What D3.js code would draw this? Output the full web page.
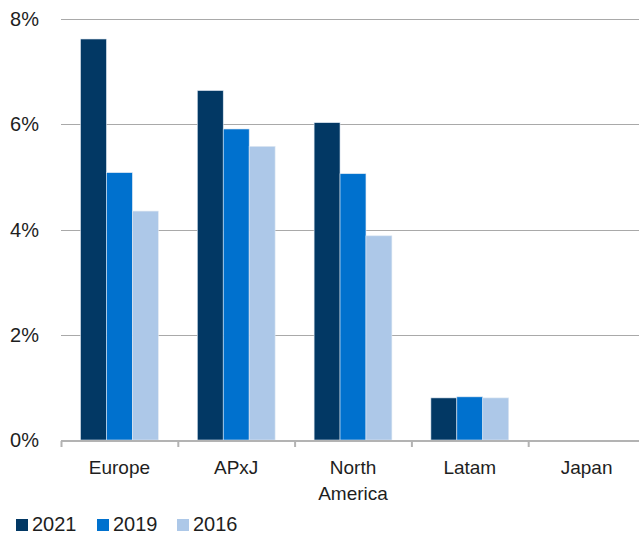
<!DOCTYPE html>
<html>
<head>
<meta charset="utf-8">
<script src="https://cdn.jsdelivr.net/npm/d3@7"></script>
<style>
  body { margin: 0; background: #fff; }
  svg text { font-family: "Liberation Sans", Arial, sans-serif; fill: #1e1e1e; }
</style>
</head>
<body>
<div id="chart"></div>
<script>
var regions = ["Europe", "APxJ", "North America", "Latam", "Japan"];
var years = ["2021", "2019", "2016"];
var values2021 = [7.62, 6.64, 6.03, 0.80, 0];
var values2019 = [5.08, 5.91, 5.06, 0.82, 0];
var values2016 = [4.35, 5.58, 3.88, 0.80, 0];
var yTicks = [0, 2, 4, 6, 8];
var colors = ["#023864", "#0071ce", "#adc8e8"];

var width = 639, height = 538;
var series = [values2021, values2019, values2016];

var svg = d3.select("#chart").append("svg").attr("width", width).attr("height", height);

var x = d3.scaleBand().domain(regions).range([61, 645]).paddingInner(0).paddingOuter(0);
var xInner = d3.scaleBand().domain(years).range([19.5, x.bandwidth() - 19.5]);
var y = d3.scaleLinear().domain([0, 8]).range([440, 19]);

// gridlines
svg.append("g").selectAll("line")
  .data(yTicks.filter(function(d){ return d > 0; }))
  .enter().append("line")
  .attr("x1", 61).attr("x2", width)
  .attr("y1", function(d){ return Math.round(y(d)) + 0.5; })
  .attr("y2", function(d){ return Math.round(y(d)) + 0.5; })
  .attr("stroke", "#a9a9a9").attr("stroke-width", 1);

// y labels
svg.append("g").selectAll("text")
  .data(yTicks)
  .enter().append("text")
  .attr("x", 39)
  .attr("y", function(d){ return y(d); })
  .attr("dy", "0.35em")
  .attr("text-anchor", "end")
  .style("font-size", "20px")
  .text(function(d){ return d + "%"; });

// bars
var groups = svg.append("g").selectAll("g")
  .data(regions)
  .enter().append("g")
  .attr("transform", function(d){ return "translate(" + x(d) + ",0)"; });

groups.selectAll("rect")
  .data(function(d, i){ return years.map(function(yr, k){ return {year: yr, k: k, v: series[k][i]}; }); })
  .enter().append("rect")
  .filter(function(d){ return d.v > 0; })
  .attr("x", function(d){ return xInner(d.year); })
  .attr("width", xInner.bandwidth())
  .attr("y", function(d){ return y(d.v); })
  .attr("height", function(d){ return y(0) - y(d.v); })
  .attr("fill", function(d){ return colors[d.k]; })
  .attr("stroke", "#dfe8f2").attr("stroke-width", 0.6);

// x axis
var xAxis = svg.append("g");
xAxis.append("line")
  .attr("x1", 61).attr("x2", width)
  .attr("y1", 441).attr("y2", 441)
  .attr("stroke", "#b3b3b3").attr("stroke-width", 2);
xAxis.selectAll("line.tick")
  .data(regions)
  .enter().append("line")
  .attr("class", "tick")
  .attr("x1", function(d){ return x(d) + 0.5; })
  .attr("x2", function(d){ return x(d) + 0.5; })
  .attr("y1", 441).attr("y2", 447)
  .attr("stroke", "#b3b3b3").attr("stroke-width", 2);

var labels = xAxis.selectAll("text")
  .data(regions)
  .enter().append("text")
  .attr("text-anchor", "middle")
  .attr("y", 474)
  .style("font-size", "19px");
labels.each(function(d){
  var words = d.split(" ");
  var t = d3.select(this);
  var cx = x(d) + x.bandwidth() / 2;
  words.forEach(function(w, i){
    t.append("tspan").attr("x", cx).attr("dy", i === 0 ? 0 : 26).text(w);
  });
});

// legend
var legendX = [16, 97, 177];
var legend = svg.append("g").selectAll("g")
  .data(years)
  .enter().append("g")
  .attr("transform", function(d, i){ return "translate(" + legendX[i] + ",519)"; });
legend.append("rect")
  .attr("width", 12).attr("height", 12)
  .attr("fill", function(d, i){ return colors[i]; });
legend.append("text")
  .attr("x", 16).attr("y", 12)
  .style("font-size", "20px")
  .text(function(d){ return d; });
</script>
</body>
</html>
